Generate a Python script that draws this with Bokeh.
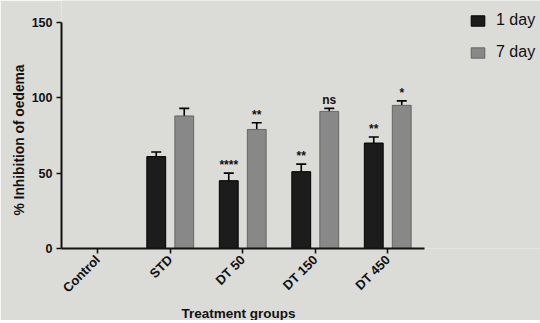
import math
from bokeh.plotting import figure
from bokeh.models import (ColumnDataSource, Range1d, Whisker, Legend, LegendItem,
                          FixedTicker, Title)
from bokeh.transform import dodge
from bokeh.core.properties import value
from bokeh.embed import file_html
from bokeh.resources import INLINE

groups = ["Control", "STD", "DT 50", "DT 150", "DT 450"]
day1 = [0, 61, 45, 51, 70]
day1_err = [0, 3, 5, 5, 4]
day7 = [0, 88, 79, 91, 95]
day7_err = [0, 5, 4.5, 2, 3]
day1_sig = ["", "", "****", "**", "**"]
day7_sig = ["", "", "**", "ns", "*"]
series_names = ["1 day", "7 day"]
y_ticks = [0, 50, 100, 150]
x_title = "Treatment groups"
y_title = "% Inhibition of oedema"

BG = "#dbdbd8"
DARK = "#1c1c1c"
GRAY = "#888888"
FONT = "Liberation Sans"

centres = [i + 0.5 for i in range(len(groups))]
y_max = y_ticks[-1]

W, H = 540, 321
LEFT = 61
CAT_PX = 72.5
AXIS_PX = 226          # pixel length of 0..150
FRAME_H = 248          # frame bottom (value 0) from canvas top
FRAME_W = W - LEFT


def make_source(vals, errs, sigs):
    keep = [i for i, v in enumerate(vals) if v > 0]
    return ColumnDataSource(dict(
        x=[centres[i] for i in keep],
        v=[vals[i] for i in keep],
        up=[vals[i] + errs[i] for i in keep],
        sig=[sigs[i] for i in keep],
    ))


s1 = make_source(day1, day1_err, day1_sig)
s7 = make_source(day7, day7_err, day7_sig)

p = figure(x_range=Range1d(0, FRAME_W / CAT_PX),
           y_range=Range1d(0, y_max * FRAME_H / AXIS_PX),
           width=W, height=H, frame_width=FRAME_W, frame_height=FRAME_H,
           min_border_left=LEFT, min_border_top=0, min_border_right=0,
           min_border_bottom=0,
           output_backend="svg", toolbar_location=None)
p.background_fill_color = BG
p.border_fill_color = BG
p.outline_line_color = None
p.xgrid.visible = False
p.ygrid.visible = False

off = 0.193
bw = 0.26
r1 = p.vbar(x=dodge("x", -off), top="v", width=bw, source=s1,
            fill_color=DARK, line_color="#000000", line_width=1)
r7 = p.vbar(x=dodge("x", off), top="v", width=bw, source=s7,
            fill_color=GRAY, line_color="#555555", line_width=0.8)

for src, o in ((s1, -off), (s7, off)):
    w = Whisker(base=dodge("x", o), lower="v", upper="up",
                source=src, dimension="height", line_color="#000000", line_width=1.6)
    w.upper_head.size = 10
    w.upper_head.line_width = 1.6
    w.lower_head = None
    p.add_layout(w)
    p.text(x=dodge("x", o), y="up", text="sig", source=src,
           text_align="center", text_baseline="bottom", y_offset=-1,
           text_font=value(FONT), text_font_style="bold", text_font_size="12px",
           text_color="#111111")

for ax in (p.xaxis[0], p.yaxis[0]):
    ax.axis_line_width = 2
    ax.axis_line_color = "#111111"
    ax.major_tick_line_width = 1.6
    ax.major_tick_line_color = "#111111"
    ax.major_tick_in = 0
    ax.major_tick_out = 5
    ax.minor_tick_line_color = None
    ax.major_label_text_font = FONT
    ax.major_label_text_font_style = "bold"
    ax.major_label_text_color = "#111111"

p.yaxis.ticker = FixedTicker(ticks=y_ticks)
p.yaxis.bounds = (0, y_max)
p.yaxis.major_label_text_font_size = "12.5px"
p.yaxis.major_label_standoff = 4

overrides = {}
for c, g in zip(centres, groups):
    overrides[c] = g
    overrides[str(c)] = g
p.xaxis.ticker = FixedTicker(ticks=centres)
p.xaxis.major_label_overrides = overrides
p.xaxis.bounds = (0, len(groups))
p.xaxis.major_label_orientation = math.pi / 4
p.xaxis.major_label_text_font_size = "13px"
p.xaxis.major_label_standoff = 4

# axis titles placed as side titles so they can be positioned along the axes
xt = Title(text=x_title, align="left", offset=120, standoff=0,
           text_font=FONT, text_font_style="bold", text_font_size="13.5px",
           text_color="#111111")
p.add_layout(xt, "below")
yt = Title(text=y_title, align="left", offset=33, standoff=4,
           text_font=FONT, text_font_style="bold", text_font_size="13.8px",
           text_color="#111111")
p.add_layout(yt, "left")

legend = Legend(items=[LegendItem(label=series_names[0], renderers=[r1]),
                       LegendItem(label=series_names[1], renderers=[r7])],
                location=(408, 186), orientation="vertical",
                background_fill_alpha=0, border_line_color=None,
                padding=0, margin=0, spacing=12, glyph_width=17, glyph_height=13,
                label_height=20, label_standoff=10,
                label_text_font=FONT, label_text_font_size="16px",
                label_text_color="#111111")
p.add_layout(legend)

open("out.html", "w").write(file_html(p, INLINE))
